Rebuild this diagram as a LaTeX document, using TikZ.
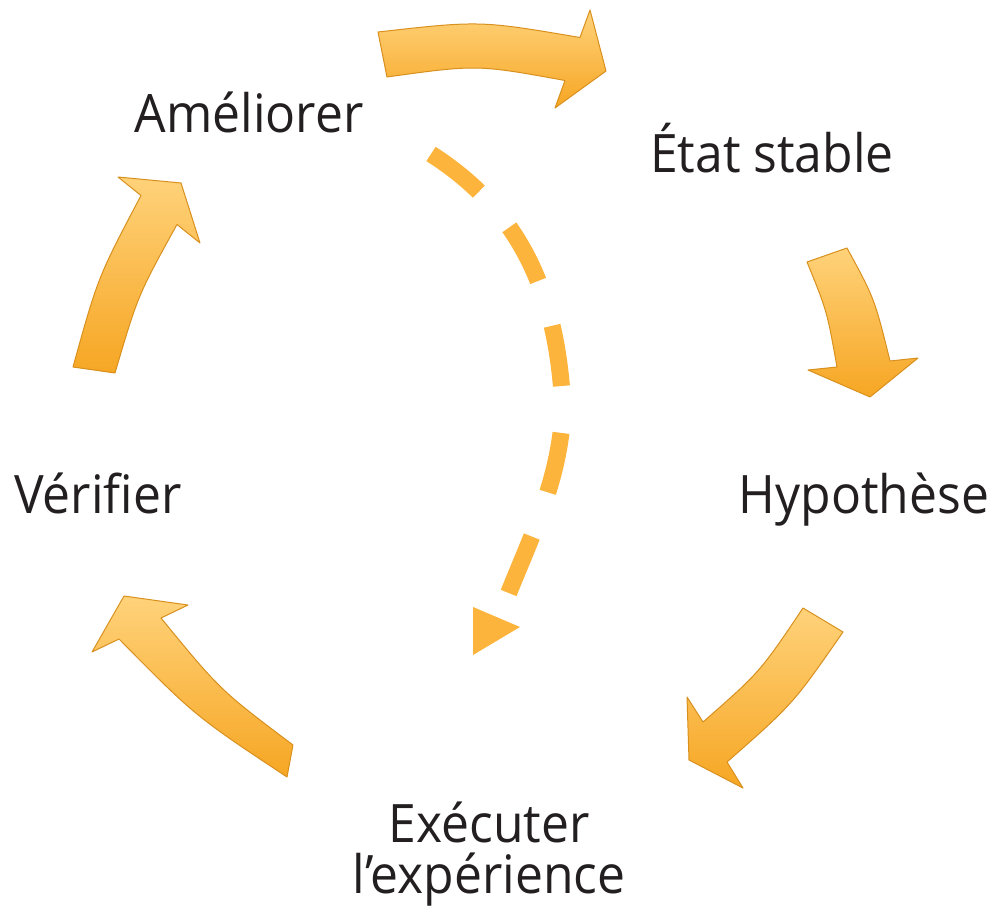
\documentclass[tikz,border=0pt]{standalone}
\usepackage{fontspec}
\setmainfont{Open Sans}[FakeStretch=0.94]
\definecolor{txt}{HTML}{231F20}
\definecolor{arrlight}{HTML}{FFD27A}
\definecolor{arrdark}{HTML}{F6A623}
\definecolor{arredge}{HTML}{D8901E}
\definecolor{dashc}{HTML}{FDB43C}
\begin{document}
\begin{tikzpicture}[x=1pt,y=-1pt,
  lbl/.style={text=txt,font=\fontsize{53}{51}\selectfont,inner sep=0pt,anchor=base},
  blockarrow/.style={top color=arrlight,bottom color=arrdark,draw=arredge,line width=1pt,line join=round},
  dashline/.style={draw=dashc,line width=17pt,dash pattern=on 61pt off 47pt},
  dashhead/.style={fill=dashc}]
\useasboundingbox (0,0) rectangle (995,909);
% labels
\node[lbl] (ameliorer) at (249,133) {Améliorer};
\node[lbl] (etat) at (772,173) {État stable};
\node[lbl] (hypo) at (864,513) {Hypothèse};
\node[lbl] (verifier) at (98,513) {Vérifier};
\node[lbl,align=center] (executer) at (489,893) {Exécuter\\l’expérience};
% block arrows
\path[blockarrow] (378,32) .. controls (480,20.5) .. (580,37.5) -- (590,10) -- (606,71) -- (555,108) -- (565,80.5) .. controls (477,64.5) .. (387,77) -- cycle;
\path[blockarrow] (807,262) .. controls (827,311) .. (837,367) -- (808,370) -- (870,397) -- (918,358) -- (890,361) .. controls (874.5,298.5) .. (847,248) -- cycle;
\path[blockarrow] (843,632) .. controls (793,704) .. (727,762) -- (743,788) -- (689,760) -- (687,697) -- (703,722) .. controls (760,672) .. (803,608) -- cycle;
\path[blockarrow] (293,745) .. controls (220,690) .. (161,618) -- (188,605) -- (124,596) -- (92,652) -- (119,639) .. controls (195,716) .. (287,777) -- cycle;
\path[blockarrow] (73,367) .. controls (98,277) .. (141,195.5) -- (118,177) -- (181,183) -- (200,243) -- (177,224.5) .. controls (138,295) .. (115,373) -- cycle;
% dashed shortcut
\coordinate (dstart) at (431,154);
\coordinate (dmid) at (563,410);
\coordinate (dend) at (507,597);
\draw[dashline] (dstart) .. controls (525,214) and (558,300) .. (dmid) .. controls (559.5,480) and (533,532) .. (dend);
\coordinate (h1) at (473,607);
\coordinate (h2) at (520,627);
\coordinate (h3) at (473,655);
\fill[dashhead] (h1) -- (h2) -- (h3) -- cycle;
\end{tikzpicture}
\end{document}
